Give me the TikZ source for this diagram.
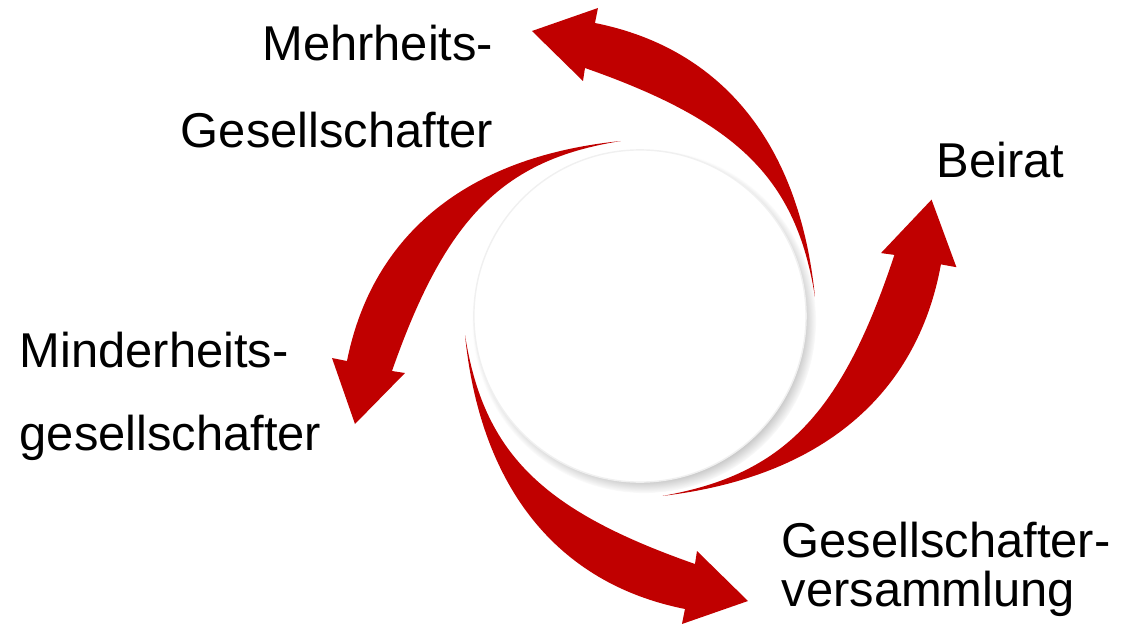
\documentclass[tikz,border=0pt]{standalone}
\usepackage{fontspec}
\setmainfont{Liberation Sans}
\usetikzlibrary{shadows,positioning}
\definecolor{swirlred}{HTML}{C00000}

\begin{document}
\begin{tikzpicture}[
  x=0.01cm, y=0.01cm,
  every node/.style={
    inner sep=0pt,
    font=\fontsize{13.9}{24.7}\selectfont
  },
  hub/.style={
    circle,
    fill=white,
    draw=black!6,
    minimum size=3.32cm,
    circular drop shadow={shadow scale=1.035, shadow xshift=0.04cm,
      shadow yshift=-0.05cm, opacity=0.85}
  },
  swirl/.style={fill=swirlred}
]
\useasboundingbox (-640,-308) rectangle (483,316);

\node[hub] (hub) at (0,0) {};

% four swirling arrows, one shape turned by 90 degrees each
\foreach \turn/\size in {0/1,90/1,180/1,271/1.03}
  \fill[swirl, rotate=\turn, scale=\size]
    (175,19) .. controls (159.7,171.6) and (82.7,267.5) .. (-45,293)
    -- (-42,308) -- (-108,285) -- (-57,235) -- (-55,248)
    .. controls (98.6,194.2) and (156.3,137) .. (175,19) -- cycle;

\node[anchor=base east, align=right] (mehr) at (-146,169)
  {Mehrheits-\\Gesellschafter};
\node[anchor=base west, align=left, font=\fontsize{13.9}{23.5}\selectfont]
  (minder) at (-621,-134) {Minderheits-\\gesellschafter};
\node[anchor=base west, align=left, font=\fontsize{13.9}{14.2}\selectfont]
  (versamm) at (141,-291) {Gesellschafter-\\versammlung};
\node[anchor=base west] (beirat) at (296,139) {Beirat};

\end{tikzpicture}
\end{document}
